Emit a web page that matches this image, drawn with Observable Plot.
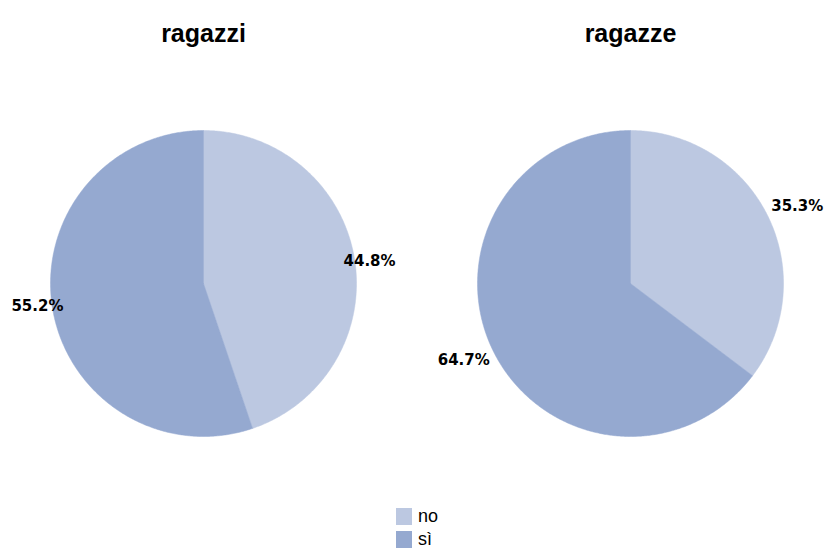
<!DOCTYPE html>
<html><head><meta charset="utf-8">
<script src="https://cdn.jsdelivr.net/npm/d3@7"></script>
<script src="https://cdn.jsdelivr.net/npm/@observablehq/plot@0.6"></script>
<style>
body{margin:0;background:#fff;font-family:"Liberation Sans",Arial,sans-serif}
#legend{margin-left:396px;margin-top:10px}
.item{display:flex;align-items:center;height:23px;font-size:18px;color:#000}
.sw{width:16px;height:17px;margin-right:6px}
</style>
</head><body><div id="chart"></div><div id="legend"></div>
<script>
const groups = ["ragazzi", "ragazze"];
const answers = ["no", "sì"];
const noValues = [44.8, 35.3];
const siValues = [55.2, 64.7];
const colors = ["#bcc8e1", "#95a9d0"];

// layout constants (in code, not data)
const R = 153;               // pixel radius
const W = 825, H = 495;
const cx0 = 203, cy0 = 283;  // pixel center of first pie
const spacing = (630 - 203) / R; // distance between pie centers in radius units
const labelRadius = [1.095, 1.2];
const labelTurn = 0.03;      // small clockwise shift of label angle

const slices = [];
const labels = [];
groups.forEach((g, gi) => {
  const vals = [noValues[gi], siValues[gi]];
  const total = d3.sum(vals);
  let start = 0;
  const ox = gi * spacing;
  vals.forEach((v, ai) => {
    const a0 = start / total * 2 * Math.PI;
    const a1 = (start + v) / total * 2 * Math.PI;
    const id = g + "-" + answers[ai];
    slices.push({id, answer: answers[ai], x: ox, y: 0});
    const n = Math.max(2, Math.ceil((a1 - a0) / (Math.PI / 360)));
    for (let k = 0; k <= n; k++) {
      const a = a0 + (a1 - a0) * k / n;
      slices.push({id, answer: answers[ai], x: ox + Math.sin(a), y: Math.cos(a)});
    }
    slices.push({id, answer: answers[ai], x: ox, y: 0});
    const am = (a0 + a1) / 2 + labelTurn;
    labels.push({x: ox + labelRadius[gi] * Math.sin(am), y: labelRadius[gi] * Math.cos(am), text: v.toFixed(1) + "%"});
    start += v;
  });
});

const titles = groups.map((g, i) => ({x: i * spacing, text: g}));

const chart = Plot.plot({
  width: W, height: H,
  margin: 0,
  x: {type: "linear", domain: [-cx0 / R, (W - cx0) / R], range: [0, W], axis: null},
  y: {type: "linear", domain: [-(H - cy0) / R, cy0 / R], range: [H, 0], axis: null},
  color: {domain: answers, range: colors},
  marks: [
    Plot.line(slices, {x: "x", y: "y", z: "id", fill: "answer", stroke: "answer", strokeWidth: 0.5, curve: "linear"}),
    Plot.text(labels, {x: "x", y: "y", text: "text", fontSize: 15, fontWeight: "bold", fontFamily: "DejaVu Sans", fill: "#000"}),
    Plot.text(titles, {x: "x", frameAnchor: "top", dy: 24, text: "text", fontSize: 25, fontWeight: "bold", fontFamily: "Liberation Sans", fill: "#000"})
  ]
});
document.getElementById("chart").appendChild(chart);

const legend = document.getElementById("legend");
answers.forEach((a, i) => {
  const it = document.createElement("div");
  it.className = "item";
  const sw = document.createElement("span");
  sw.className = "sw";
  sw.style.background = colors[i];
  const t = document.createElement("span");
  t.textContent = a;
  it.appendChild(sw); it.appendChild(t);
  legend.appendChild(it);
});
</script>
</body></html>
